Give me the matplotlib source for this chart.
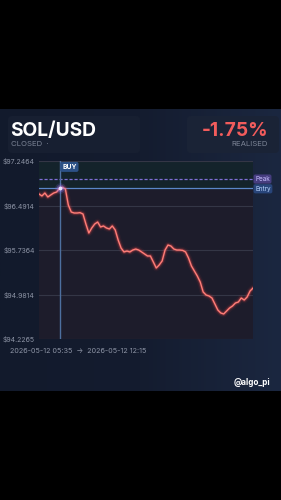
import matplotlib
matplotlib.use("Agg")
import matplotlib.pyplot as plt
import numpy as np
from matplotlib.patches import FancyBboxPatch
from matplotlib.colors import LinearSegmentedColormap
import matplotlib.transforms as mtransforms

# trade data
symbol = "SOL/USD"
status = "CLOSED"
pnl_text = "-1.75%"
time_start = "2026-05-12 05:35"
time_end = "2026-05-12 12:15"
handle = "@algo_pi"

prices = [
    96.687, 96.653, 96.703, 96.636, 96.670, 96.703, 96.720, 96.780, 96.800, 96.771,
    96.500, 96.381, 96.364, 96.364, 96.370, 96.347, 96.177, 96.025, 96.110, 96.177,
    96.211, 96.127, 96.144, 96.110, 96.093, 96.144, 96.076, 95.906, 95.770, 95.703,
    95.719, 95.703, 95.736, 95.753, 95.736, 95.703, 95.669, 95.635, 95.635, 95.533,
    95.431, 95.482, 95.550, 95.736, 95.821, 95.804, 95.753, 95.736, 95.736, 95.730,
    95.703, 95.601, 95.465, 95.380, 95.295, 95.193, 95.024, 94.973, 94.956, 94.922,
    94.820, 94.718, 94.668, 94.651, 94.701, 94.752, 94.786, 94.837, 94.854, 94.922,
    94.888, 94.939, 95.041, 95.091,
]
buy_index = 7
entry_price = 96.78
peak_price = 96.94
y_ticks = [94.2265, 94.9814, 95.7364, 96.4914, 97.2464]

W, H = 281, 500
fig = plt.figure(figsize=(W / 100, H / 100), dpi=100)
fig.patch.set_facecolor("black")

# background panel, pixel coords
bg = fig.add_axes([0, 0, 1, 1])
bg.set_xlim(0, W)
bg.set_ylim(H, 0)
bg.axis("off")
cmap = LinearSegmentedColormap.from_list("panel", ["#121a2c", "#141c2f", "#1b2740"])
grad = np.linspace(0, 1, 256).reshape(1, -1)
bg.imshow(grad, cmap=cmap, extent=[0, W, 391, 109], aspect="auto", zorder=0)

card_color = "#171f31"
bg.add_patch(FancyBboxPatch((8, 116), 132, 37, boxstyle="round,pad=0,rounding_size=4",
                            fc=card_color, ec="none", zorder=1))
bg.add_patch(FancyBboxPatch((187, 116), 92, 37, boxstyle="round,pad=0,rounding_size=4",
                            fc="#1a2336", ec="none", zorder=1))

bg.text(10, 136, symbol, color="white", fontsize=13.8, fontweight="bold",
        family="Inter", va="baseline", zorder=2)
bg.text(11, 146, status + "  \u00b7", color="#7d8597", fontsize=5.6,
        family="Inter", va="baseline", zorder=2)
bg.text(268, 136, pnl_text, color="#f25c5c", fontsize=13.8, fontweight="bold",
        family="Inter", ha="right", va="baseline", zorder=2)
bg.text(268, 146, "REALISED", color="#7d8597", fontsize=5.6,
        family="Inter", ha="right", va="baseline", zorder=2)
bg.text(10, 353, time_start + "  \u2192  " + time_end, color="#8d94a5",
        fontsize=5.2, family="Inter", va="baseline", zorder=2)
bg.text(270, 385, handle, color="white", fontsize=5.8, fontweight="bold",
        family="Inter", ha="right", va="baseline", zorder=2)

# chart
ax = fig.add_axes([39 / W, 1 - 339 / H, 214 / W, 178 / H])
x = np.arange(len(prices))
ymin, ymax = y_ticks[0], y_ticks[-1]
ax.set_xlim(0, len(prices) - 1)
ax.set_ylim(ymin, ymax)
ax.set_facecolor("#1d1c2b")
ax.axhspan(entry_price, ymax, color="#14232b", zorder=0)
for s in ax.spines.values():
    s.set_visible(False)

for t in y_ticks:
    ax.axhline(t, color="#343646", lw=0.8, zorder=1)
ax.set_yticks(y_ticks)
ax.set_yticklabels(["\\$%.4f" % t for t in y_ticks], color="#8d94a5",
                   fontsize=5.0, family="Inter")
ax.tick_params(axis="y", length=0, pad=3)
ax.set_xticks([])

# peak / entry lines
ax.axhline(peak_price, color="#7f6fd4", lw=0.9, ls=(0, (2.5, 1.5)), zorder=2)
ax.axhline(entry_price, color="#5b86c8", lw=0.9, zorder=2)
ax.axvline(buy_index, color="#4d6f9f", lw=1.0, zorder=2)

trans = mtransforms.blended_transform_factory(ax.transAxes, ax.transData)
ax.text(1.01, peak_price, "Peak", transform=trans, color="#c8bfff", fontsize=4.6,
        family="Inter", va="center", ha="left", clip_on=False,
        bbox=dict(boxstyle="round,pad=0.25,rounding_size=0.3", fc="#463d7f", ec="none"))
ax.text(1.01, entry_price - 0.005, "Entry", transform=trans, color="#b9d4ff", fontsize=4.6,
        family="Inter", va="center", ha="left", clip_on=False,
        bbox=dict(boxstyle="round,pad=0.25,rounding_size=0.3", fc="#28457a", ec="none"))
ax.text(buy_index + 0.9, ymax - 0.1, "BUY", color="white", fontsize=4.8, fontweight="bold",
        family="Inter", va="center", ha="left",
        bbox=dict(boxstyle="round,pad=0.3,rounding_size=0.3", fc="#2c5186", ec="none"))

# glowing price line
for lw, a in [(5, 0.05), (3.2, 0.12), (2.2, 0.22)]:
    ax.plot(x, prices, color="#ff4d4d", lw=lw, alpha=a, solid_capstyle="round",
            solid_joinstyle="round", zorder=3)
ax.plot(x, prices, color="#ff7e78", lw=1.0, solid_joinstyle="round", zorder=4)

# buy dot with glow
for s, a in [(60, 0.15), (30, 0.3)]:
    ax.scatter([buy_index], [prices[buy_index]], s=s, color="#8f7bff", alpha=a,
               lw=0, zorder=5)
ax.scatter([buy_index], [prices[buy_index]], s=8, color="#e8e4ff", lw=0, zorder=6)

fig.savefig("out.png", dpi=100, facecolor=fig.get_facecolor())
